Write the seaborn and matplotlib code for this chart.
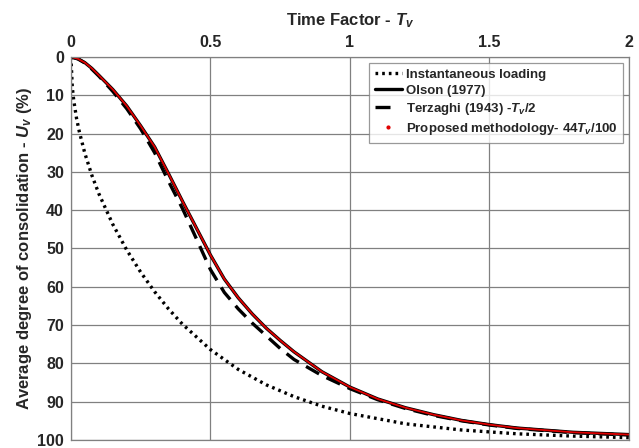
import numpy as np
import pandas as pd
import matplotlib
matplotlib.use("Agg")
import matplotlib.pyplot as plt
from matplotlib.lines import Line2D
import seaborn as sns

# values (Tv, Uv %)
t_inst = [0, 0.005, 0.01, 0.02, 0.03, 0.05, 0.075, 0.1, 0.15, 0.2, 0.25, 0.3, 0.35, 0.4,
          0.5, 0.6, 0.7, 0.8, 0.9, 1.0, 1.2, 1.4, 1.6, 1.8, 2.0]
u_inst = [0, 8.0, 11.3, 16.0, 19.5, 25.2, 30.9, 35.7, 43.7, 50.4, 56.2, 61.3, 65.8, 69.8,
          76.4, 81.6, 85.6, 88.7, 91.2, 93.1, 95.8, 97.4, 98.4, 99.0, 99.4]

t_olson = [0, 0.025, 0.05, 0.075, 0.1, 0.15, 0.2, 0.25, 0.3, 0.35, 0.4, 0.45, 0.5, 0.55, 0.6,
           0.65, 0.7, 0.75, 0.8, 0.9, 1.0, 1.1, 1.2, 1.3, 1.4, 1.5, 1.6, 1.8, 2.0]
u_olson = [0, 0.5, 1.5, 3.0, 4.8, 8.5, 12.8, 18.0, 23.5, 30.5, 37.7, 44.7, 51.7, 58.0, 62.9,
           67.1, 70.8, 74.0, 77.0, 82.2, 86.2, 89.3, 91.6, 93.4, 94.9, 96.0, 96.9, 98.0, 98.6]

t_terz = [0, 0.025, 0.05, 0.075, 0.1, 0.15, 0.2, 0.25, 0.3, 0.35, 0.4, 0.45, 0.5, 0.55, 0.6,
          0.65, 0.7, 0.75, 0.8, 0.9, 1.0, 1.1, 1.2, 1.3, 1.4, 1.5, 1.6, 1.8, 2.0]
u_terz = [0, 0.5, 1.6, 3.2, 5.0, 9.0, 13.5, 18.8, 25.0, 32.5, 39.6, 47.5, 55.5, 61.5, 65.8,
          69.5, 72.8, 76.1, 79.0, 83.2, 86.6, 89.5, 91.8, 93.6, 95.0, 96.1, 97.0, 98.1, 98.7]

t_prop = t_olson
u_prop = [0, 0.5, 1.5, 3.0, 4.8, 8.5, 12.8, 18.0, 23.5, 30.5, 37.7, 44.7, 51.7, 58.0, 62.9,
          67.1, 70.8, 74.0, 77.0, 82.2, 86.2, 89.3, 91.6, 93.4, 94.9, 96.0, 96.9, 98.0, 98.6]

sns.set_style("white")
plt.rcParams["font.family"] = ["Liberation Sans", "DejaVu Sans"]
plt.rcParams["font.weight"] = "bold"
plt.rcParams["mathtext.fontset"] = "custom"
plt.rcParams["mathtext.it"] = "Liberation Sans:bold:italic"
plt.rcParams["mathtext.rm"] = "Liberation Sans:bold"

fig = plt.figure(figsize=(6.39, 4.48), dpi=100)
ax = fig.add_axes([0.111, 0.018, 0.873, 0.855])

sns.lineplot(x=t_inst, y=u_inst, ax=ax, color="black", lw=2.4, sort=False)
ax.lines[-1].set_linestyle((0, (0.8, 1.2)))
sns.lineplot(x=t_olson, y=u_olson, ax=ax, color="black", lw=2.4, sort=False)
sns.lineplot(x=t_terz, y=u_terz, ax=ax, color="black", lw=2.4, sort=False)
ax.lines[-1].set_linestyle((0, (4.5, 2.5)))
sns.lineplot(x=t_prop, y=u_prop, ax=ax, color="#e00000", lw=1.3, sort=False)

ax.set_xlim(0, 2)
ax.set_ylim(100, 0)
ax.set_xticks([0, 0.5, 1, 1.5, 2])
ax.set_xticklabels(["0", "0.5", "1", "1.5", "2"])
ax.set_yticks(range(0, 101, 10))
ax.xaxis.tick_top()
ax.xaxis.set_label_position("top")
ax.tick_params(length=0, labelsize=11.5, pad=5)
for lab in ax.get_xticklabels() + ax.get_yticklabels():
    lab.set_fontweight("bold")
ax.grid(True, color="#808080", lw=0.9)
for s in ax.spines.values():
    s.set_color("#808080")
    s.set_linewidth(0.9)

ax.set_xlabel(r"Time Factor - $T_v$", fontsize=12, fontweight="bold", labelpad=7)
ax.set_ylabel(r"Average degree of consolidation - $U_v$ (%)", fontsize=12,
              fontweight="bold", labelpad=2)

handles = [
    Line2D([], [], color="black", lw=2.4, linestyle=(0, (0.8, 1.2))),
    Line2D([], [], color="black", lw=2.4),
    Line2D([], [], color="black", lw=2.4, linestyle=(0, (4.5, 5.5))),
    Line2D([], [], color="#e00000", lw=0, marker="o", markersize=2),
]
labels = ["Instantaneous loading", "Olson (1977)", r"Terzaghi (1943) -$T_v$/2",
          r"Proposed methodology- 44$T_v$/100"]
leg = ax.legend(handles, labels, loc="upper right", bbox_to_anchor=(0.99, 0.985),
                fontsize=9.5, frameon=True, fancybox=False, handlelength=2.1,
                handletextpad=0.25, borderpad=0.45, labelspacing=0.3, borderaxespad=0)
leg.get_frame().set_edgecolor("#808080")
leg.get_frame().set_linewidth(0.9)
for t in leg.get_texts():
    t.set_fontweight("bold")

fig.savefig("out.png", dpi=100)
